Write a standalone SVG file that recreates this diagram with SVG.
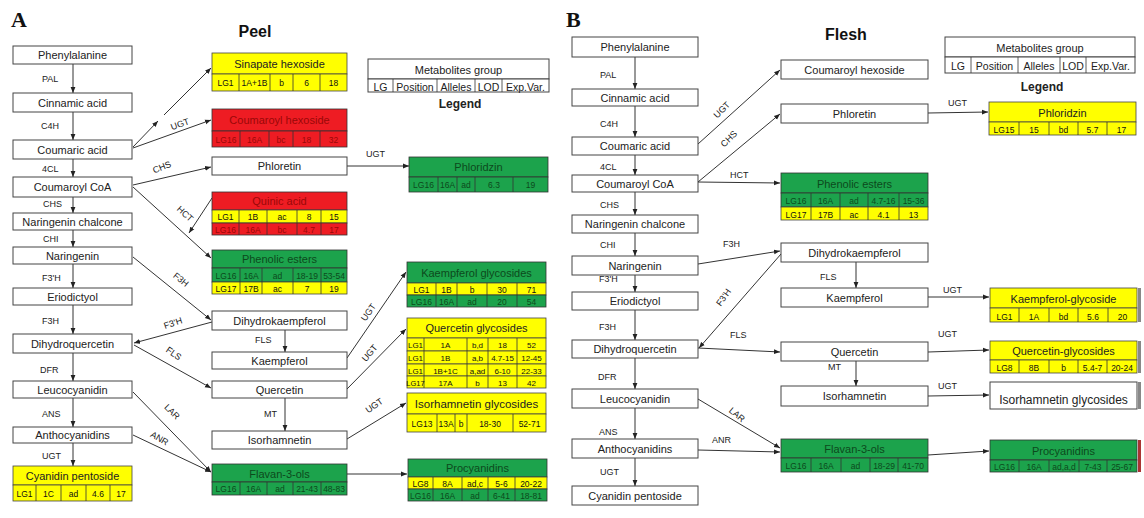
<svg xmlns="http://www.w3.org/2000/svg" width="1144" height="518" viewBox="0 0 1144 518">
<defs>
<marker id="ah" viewBox="0 0 10 10" refX="10" refY="5" markerWidth="6" markerHeight="6" orient="auto" markerUnits="userSpaceOnUse"><path d="M0,1 L10,5 L0,9 z" fill="#222"/></marker>
<style>
text{font-family:"Liberation Sans",Arial,sans-serif}
.box{fill:#fff;stroke:#444;stroke-width:1}
.cy{fill:#ffff00;stroke:#444;stroke-width:0.8}
.cg{fill:#1ca34c;stroke:#333;stroke-width:0.8}
.cr{fill:#ee1c23;stroke:#333;stroke-width:0.8}
.dv{stroke:#333;stroke-width:0.8;fill:none}
.t{font-size:11px;text-anchor:middle;fill:#222}
.d{font-size:8.5px;text-anchor:middle;fill:#111}
.tg{fill:#0c4a1c}
.tr{fill:#9a0808}
.lb{font-size:9px;fill:#222}
.hd{font-size:16px;font-weight:bold;text-anchor:middle;fill:#111}
.pn{font-family:"Liberation Serif","Times New Roman",serif;font-size:22px;font-weight:bold;fill:#111}
.lg{font-size:12px;font-weight:bold;text-anchor:middle;fill:#222}
.ln{stroke:#333;stroke-width:1;fill:none;marker-end:url(#ah)}
.pl{stroke:#333;stroke-width:1;fill:none}
</style>
</defs>
<rect width="1144" height="518" fill="#fff"/>

<!-- Panel headings -->
<text class="pn" x="11" y="27">A</text>
<text class="hd" x="255" y="37">Peel</text>
<text class="pn" x="566" y="27">B</text>
<text class="hd" x="846" y="40">Flesh</text>

<!-- ===== Connectors ===== -->
<g id="connectors">
<!-- A vertical -->
<line class="ln" x1="73" y1="64" x2="73" y2="93"/>
<line class="ln" x1="73" y1="112" x2="73" y2="140"/>
<line class="ln" x1="73" y1="159" x2="73" y2="177"/>
<line class="ln" x1="73" y1="197" x2="73" y2="213"/>
<line class="ln" x1="73" y1="230" x2="73" y2="247"/>
<line class="ln" x1="73" y1="264" x2="73" y2="288"/>
<line class="ln" x1="73" y1="305" x2="73" y2="334"/>
<line class="ln" x1="73" y1="353" x2="73" y2="381"/>
<line class="ln" x1="73" y1="398" x2="73" y2="427"/>
<line class="ln" x1="73" y1="443" x2="73" y2="466"/>
<line class="ln" x1="285" y1="330" x2="285" y2="352"/>
<line class="ln" x1="285" y1="398" x2="285" y2="431"/>
<!-- A diagonals -->
<line class="ln" x1="133" y1="147" x2="158" y2="121"/>
<line class="ln" x1="164" y1="115" x2="211" y2="68"/>
<line class="ln" x1="133" y1="148" x2="211" y2="120"/>
<line class="ln" x1="133" y1="185" x2="211" y2="167"/>
<line class="ln" x1="133" y1="187" x2="211" y2="258"/>
<line class="ln" x1="212" y1="198" x2="189" y2="233"/>
<line class="ln" x1="133" y1="257" x2="211" y2="320"/>
<line class="ln" x1="212" y1="322" x2="134" y2="343"/>
<line class="ln" x1="134" y1="345" x2="211" y2="388"/>
<line class="ln" x1="133" y1="392" x2="211" y2="472"/>
<line class="ln" x1="133" y1="435" x2="211" y2="472"/>
<line class="ln" x1="347" y1="166" x2="409" y2="166"/>
<line class="ln" x1="347" y1="358" x2="406" y2="272"/>
<line class="ln" x1="347" y1="389" x2="406" y2="329"/>
<line class="ln" x1="347" y1="439" x2="406" y2="403"/>
<line class="ln" x1="347" y1="474" x2="407" y2="474"/>
<!-- B vertical -->
<line class="ln" x1="635" y1="57" x2="635" y2="89"/>
<line class="ln" x1="635" y1="106" x2="635" y2="137"/>
<line class="ln" x1="635" y1="155" x2="635" y2="175"/>
<line class="ln" x1="635" y1="192" x2="635" y2="215"/>
<line class="ln" x1="635" y1="233" x2="635" y2="256"/>
<line class="ln" x1="635" y1="275" x2="635" y2="292"/>
<line class="ln" x1="635" y1="310" x2="635" y2="340"/>
<line class="ln" x1="635" y1="358" x2="635" y2="389"/>
<line class="ln" x1="635" y1="408" x2="635" y2="439"/>
<line class="ln" x1="635" y1="458" x2="635" y2="486"/>
<line class="ln" x1="856" y1="262" x2="856" y2="288"/>
<line class="ln" x1="856" y1="361" x2="856" y2="386"/>
<!-- B diagonals -->
<line class="ln" x1="698" y1="144" x2="780" y2="70"/>
<line class="ln" x1="698" y1="182" x2="780" y2="114"/>
<line class="ln" x1="698" y1="182" x2="780" y2="183"/>
<line class="ln" x1="698" y1="264" x2="780" y2="251"/>
<line class="ln" x1="781" y1="254" x2="699" y2="348"/>
<line class="ln" x1="698" y1="348" x2="780" y2="352"/>
<line class="ln" x1="698" y1="399" x2="780" y2="448"/>
<line class="ln" x1="698" y1="450" x2="780" y2="452"/>
<line class="ln" x1="928" y1="113" x2="988" y2="112"/>
<line class="ln" x1="928" y1="297" x2="989" y2="297"/>
<line class="ln" x1="928" y1="352" x2="989" y2="350"/>
<line class="ln" x1="928" y1="396" x2="989" y2="395"/>
<line class="ln" x1="928" y1="455" x2="989" y2="451"/>
<!-- labels A -->
<text class="lb" x="42" y="82">PAL</text>
<text class="lb" x="41" y="129">C4H</text>
<text class="lb" x="42" y="172">4CL</text>
<text class="lb" x="43" y="207">CHS</text>
<text class="lb" x="43" y="242">CHI</text>
<text class="lb" x="42" y="281">F3'H</text>
<text class="lb" x="42" y="324">F3H</text>
<text class="lb" x="40" y="373">DFR</text>
<text class="lb" x="42" y="417">ANS</text>
<text class="lb" x="42" y="459">UGT</text>
<text class="lb" x="255" y="343">FLS</text>
<text class="lb" x="264" y="417">MT</text>
<text class="lb" x="366" y="157">UGT</text>
<text class="lb" text-anchor="middle" transform="translate(181,127) rotate(-20)">UGT</text>
<text class="lb" text-anchor="middle" transform="translate(163,170) rotate(-22)">CHS</text>
<text class="lb" text-anchor="middle" transform="translate(183,216) rotate(42)">HCT</text>
<text class="lb" text-anchor="middle" transform="translate(179,282) rotate(39)">F3H</text>
<text class="lb" text-anchor="middle" transform="translate(174,326) rotate(-18)">F3'H</text>
<text class="lb" text-anchor="middle" transform="translate(172,356) rotate(35)">FLS</text>
<text class="lb" text-anchor="middle" transform="translate(170,414) rotate(45)">LAR</text>
<text class="lb" text-anchor="middle" transform="translate(158,441) rotate(30)">ANR</text>
<text class="lb" text-anchor="middle" transform="translate(371,314) rotate(-55)">UGT</text>
<text class="lb" text-anchor="middle" transform="translate(372,355) rotate(-50)">UGT</text>
<text class="lb" text-anchor="middle" transform="translate(376,408) rotate(-35)">UGT</text>
<!-- labels B -->
<text class="lb" x="600" y="78">PAL</text>
<text class="lb" x="600" y="127">C4H</text>
<text class="lb" x="600" y="170">4CL</text>
<text class="lb" x="600" y="208">CHS</text>
<text class="lb" x="600" y="248">CHI</text>
<text class="lb" x="599" y="282">F3'H</text>
<text class="lb" x="599" y="330">F3H</text>
<text class="lb" x="598" y="380">DFR</text>
<text class="lb" x="599" y="435">ANS</text>
<text class="lb" x="600" y="475">UGT</text>
<text class="lb" x="730" y="178">HCT</text>
<text class="lb" x="723" y="247">F3H</text>
<text class="lb" x="730" y="338">FLS</text>
<text class="lb" x="712" y="443">ANR</text>
<text class="lb" x="820" y="280">FLS</text>
<text class="lb" x="828" y="370">MT</text>
<text class="lb" x="948" y="106">UGT</text>
<text class="lb" x="943" y="293">UGT</text>
<text class="lb" x="938" y="337">UGT</text>
<text class="lb" x="938" y="389">UGT</text>
<text class="lb" text-anchor="middle" transform="translate(724,112) rotate(-45)">UGT</text>
<text class="lb" text-anchor="middle" transform="translate(731,141) rotate(-45)">CHS</text>
<text class="lb" text-anchor="middle" transform="translate(726,299) rotate(-55)">F3'H</text>
<text class="lb" text-anchor="middle" transform="translate(735,417) rotate(40)">LAR</text>
</g>

<!-- ===== Panel A nodes ===== -->
<g id="a-phenylalanine"><rect class="box" x="13" y="46" width="119" height="18"/><text class="t" x="72.5" y="59">Phenylalanine</text></g>
<g id="a-cinnamic"><rect class="box" x="13" y="93" width="119" height="19"/><text class="t" x="72.5" y="106.5">Cinnamic acid</text></g>
<g id="a-coumaric"><rect class="box" x="13" y="140" width="119" height="19"/><text class="t" x="72.5" y="153.5">Coumaric acid</text></g>
<g id="a-coumaroylcoa"><rect class="box" x="13" y="177" width="119" height="20"/><text class="t" x="72.5" y="191">Coumaroyl CoA</text></g>
<g id="a-chalcone"><rect class="box" x="13" y="213" width="119" height="17"/><text class="t" x="72.5" y="225.5">Naringenin chalcone</text></g>
<g id="a-naringenin"><rect class="box" x="13" y="247" width="119" height="17"/><text class="t" x="72.5" y="259.5">Naringenin</text></g>
<g id="a-eriodictyol"><rect class="box" x="13" y="288" width="119" height="17"/><text class="t" x="72.5" y="300.5">Eriodictyol</text></g>
<g id="a-dihydroquercetin"><rect class="box" x="13" y="334" width="119" height="19"/><text class="t" x="72.5" y="347.5">Dihydroquercetin</text></g>
<g id="a-leucocyanidin"><rect class="box" x="13" y="381" width="119" height="17"/><text class="t" x="72.5" y="393.5">Leucocyanidin</text></g>
<g id="a-anthocyanidins"><rect class="box" x="13" y="427" width="119" height="16"/><text class="t" x="72.5" y="439">Anthocyanidins</text></g>
<g id="a-cyanidin">
<rect class="cy" x="13" y="466" width="119" height="19"/><rect class="cy" x="13" y="485" width="119" height="16"/>
<path class="dv" d="M36,485V501M61,485V501M86,485V501M110,485V501"/>
<text class="t" x="72.5" y="480">Cyanidin pentoside</text>
<text class="d" y="497"><tspan x="24.5">LG1</tspan><tspan x="48.5">1C</tspan><tspan x="73.5">ad</tspan><tspan x="98">4.6</tspan><tspan x="121">17</tspan></text>
</g>

<g id="a-sinapate">
<rect class="cy" x="212" y="53" width="135" height="21"/><rect class="cy" x="212" y="74" width="135" height="17"/>
<path class="dv" d="M239,74V91M270,74V91M293,74V91M320,74V91"/>
<text class="t" x="279.5" y="67.5">Sinapate hexoside</text>
<text class="d" y="86"><tspan x="225.5">LG1</tspan><tspan x="254.5">1A+1B</tspan><tspan x="281.5">b</tspan><tspan x="306.5">6</tspan><tspan x="333.5">18</tspan></text>
</g>
<g id="a-coumaroylhex">
<rect class="cr" x="212" y="109" width="135" height="22"/><rect class="cr" x="212" y="131" width="135" height="16"/>
<path class="dv" d="M240,131V147M269,131V147M293,131V147M320,131V147"/>
<text class="t tr" x="279.5" y="124">Coumaroyl hexoside</text>
<text class="d tr" y="143"><tspan x="226">LG16</tspan><tspan x="254.5">16A</tspan><tspan x="281">bc</tspan><tspan x="306.5">18</tspan><tspan x="333.5">32</tspan></text>
</g>
<g id="a-phloretin"><rect class="box" x="212" y="157" width="135" height="18"/><text class="t" x="279.5" y="170">Phloretin</text></g>
<g id="a-quinic">
<rect class="cr" x="212" y="192" width="135" height="18"/><rect class="cy" x="212" y="210" width="135" height="13"/><rect class="cr" x="212" y="223" width="135" height="12"/>
<path class="dv" d="M239,210V235M267,210V235M297,210V235M321,210V235"/>
<text class="t tr" x="279.5" y="205">Quinic acid</text>
<text class="d" y="220"><tspan x="225.5">LG1</tspan><tspan x="253">1B</tspan><tspan x="282">ac</tspan><tspan x="309">8</tspan><tspan x="334">15</tspan></text>
<text class="d tr" y="232.5"><tspan x="225.5">LG16</tspan><tspan x="253">16A</tspan><tspan x="282">bc</tspan><tspan x="309">4.7</tspan><tspan x="334">17</tspan></text>
</g>
<g id="a-phenolic">
<rect class="cg" x="212" y="250" width="135" height="18"/><rect class="cg" x="212" y="268" width="135" height="14"/><rect class="cy" x="212" y="282" width="135" height="12"/>
<path class="dv" d="M240,268V294M262,268V294M293,268V294M321,268V294"/>
<text class="t tg" x="279.5" y="263">Phenolic esters</text>
<text class="d tg" y="278.5"><tspan x="226">LG16</tspan><tspan x="251">16A</tspan><tspan x="277.5">ad</tspan><tspan x="307">18-19</tspan><tspan x="334">53-54</tspan></text>
<text class="d" y="291.5"><tspan x="226">LG17</tspan><tspan x="251">17B</tspan><tspan x="277.5">ac</tspan><tspan x="307">7</tspan><tspan x="334">19</tspan></text>
</g>
<g id="a-dihydrokaempferol"><rect class="box" x="212" y="311" width="135" height="19"/><text class="t" x="279.5" y="324.5">Dihydrokaempferol</text></g>
<g id="a-kaempferol"><rect class="box" x="212" y="352" width="135" height="17"/><text class="t" x="279.5" y="364.5">Kaempferol</text></g>
<g id="a-quercetin"><rect class="box" x="212" y="381" width="135" height="17"/><text class="t" x="279.5" y="393.5">Quercetin</text></g>
<g id="a-isorhamnetin"><rect class="box" x="212" y="431" width="135" height="18"/><text class="t" x="279.5" y="444">Isorhamnetin</text></g>
<g id="a-flavan">
<rect class="cg" x="212" y="464" width="135" height="18"/><rect class="cg" x="212" y="482" width="135" height="13"/>
<path class="dv" d="M240,482V495M267,482V495M293,482V495M321,482V495"/>
<text class="t tg" x="279.5" y="477.5">Flavan-3-ols</text>
<text class="d tg" y="492"><tspan x="226">LG16</tspan><tspan x="253.5">16A</tspan><tspan x="280">ad</tspan><tspan x="307">21-43</tspan><tspan x="334">48-83</tspan></text>
</g>

<g id="a-legend">
<rect class="box" x="368" y="59" width="181" height="20"/><rect class="box" x="368" y="79" width="181" height="13"/>
<path class="dv" d="M393,79V92M437,79V92M475,79V92M502,79V92"/>
<text class="t" x="458.5" y="73.5">Metabolites group</text>
<text class="t" y="90.5" style="font-size:10.5px"><tspan x="380.5">LG</tspan><tspan x="415">Position</tspan><tspan x="456">Alleles</tspan><tspan x="488.5">LOD</tspan><tspan x="525.5">Exp.Var.</tspan></text>
<text class="lg" x="460" y="108">Legend</text>
</g>
<g id="a-phloridzin">
<rect class="cg" x="409" y="157" width="139" height="20"/><rect class="cg" x="409" y="177" width="139" height="15"/>
<path class="dv" d="M438,177V192M457,177V192M475,177V192M513,177V192"/>
<text class="t tg" x="478.5" y="171">Phloridzin</text>
<text class="d tg" y="188"><tspan x="423.5">LG16</tspan><tspan x="447.5">16A</tspan><tspan x="466">ad</tspan><tspan x="494">6.3</tspan><tspan x="530.5">19</tspan></text>
</g>
<g id="a-kaempgly">
<rect class="cg" x="407" y="262" width="139" height="21"/><rect class="cy" x="407" y="283" width="139" height="12"/><rect class="cg" x="407" y="295" width="139" height="12"/>
<path class="dv" d="M436,283V307M457,283V307M487,283V307M517,283V307"/>
<text class="t tg" x="476.5" y="276.5">Kaempferol glycosides</text>
<text class="d" y="293"><tspan x="421.5">LG1</tspan><tspan x="446.5">1B</tspan><tspan x="472">b</tspan><tspan x="502">30</tspan><tspan x="531.5">71</tspan></text>
<text class="d tg" y="305"><tspan x="421.5">LG16</tspan><tspan x="446.5">16A</tspan><tspan x="472">ad</tspan><tspan x="502">20</tspan><tspan x="531.5">54</tspan></text>
</g>
<g id="a-quercgly">
<rect class="cy" x="407" y="318" width="139" height="20"/><rect class="cy" x="407" y="338" width="139" height="13"/><rect class="cy" x="407" y="351" width="139" height="13"/><rect class="cy" x="407" y="364" width="139" height="12"/><rect class="cy" x="407" y="376" width="139" height="12"/>
<path class="dv" d="M424,338V388M467,338V388M488,338V388M517,338V388"/>
<text class="t" x="476.5" y="332">Quercetin glycosides</text>
<text class="d" y="348" style="font-size:8px"><tspan x="415.5">LG1</tspan><tspan x="445.5">1A</tspan><tspan x="477.5">b,d</tspan><tspan x="502.5">18</tspan><tspan x="531.5">52</tspan></text>
<text class="d" y="361" style="font-size:8px"><tspan x="415.5">LG1</tspan><tspan x="445.5">1B</tspan><tspan x="477.5">a,b</tspan><tspan x="502.5">4.7-15</tspan><tspan x="531.5">12-45</tspan></text>
<text class="d" y="373.5" style="font-size:8px"><tspan x="415.5">LG1</tspan><tspan x="445.5">1B+1C</tspan><tspan x="477.5">a,ad</tspan><tspan x="502.5">6-10</tspan><tspan x="531.5">22-33</tspan></text>
<text class="d" y="385.5" style="font-size:8px"><tspan x="415.5" style="font-size:7.5px">LG17</tspan><tspan x="445.5">17A</tspan><tspan x="477.5">b</tspan><tspan x="502.5">13</tspan><tspan x="531.5">42</tspan></text>
</g>
<g id="a-isorhamgly">
<rect class="cy" x="407" y="393" width="139" height="21"/><rect class="cy" x="407" y="414" width="139" height="18"/>
<path class="dv" d="M437,414V432M455,414V432M467,414V432M513,414V432"/>
<text class="t" x="476.5" y="408" style="font-size:11.5px">Isorhamnetin glycosides</text>
<text class="d" y="427"><tspan x="422">LG13</tspan><tspan x="446">13A</tspan><tspan x="461">b</tspan><tspan x="490">18-30</tspan><tspan x="529.5">52-71</tspan></text>
</g>
<g id="a-procyanidins">
<rect class="cg" x="408" y="459" width="139" height="18"/><rect class="cy" x="408" y="477" width="139" height="12"/><rect class="cg" x="408" y="489" width="139" height="12"/>
<path class="dv" d="M433,477V501M462,477V501M488,477V501M515,477V501"/>
<text class="t tg" x="477.5" y="472">Procyanidins</text>
<text class="d" y="486.5"><tspan x="420.5">LG8</tspan><tspan x="447.5">8A</tspan><tspan x="475">ad,c</tspan><tspan x="501.5">5-6</tspan><tspan x="531">20-22</tspan></text>
<text class="d tg" y="498.5"><tspan x="420.5">LG16</tspan><tspan x="447.5">16A</tspan><tspan x="475">ad</tspan><tspan x="501.5">6-41</tspan><tspan x="531">18-81</tspan></text>
</g>

<!-- ===== Panel B nodes ===== -->
<g id="b-phenylalanine"><rect class="box" x="572" y="37" width="126" height="20"/><text class="t" x="635" y="51">Phenylalanine</text></g>
<g id="b-cinnamic"><rect class="box" x="572" y="89" width="126" height="17"/><text class="t" x="635" y="101.5">Cinnamic acid</text></g>
<g id="b-coumaric"><rect class="box" x="572" y="137" width="126" height="18"/><text class="t" x="635" y="150">Coumaric acid</text></g>
<g id="b-coumaroylcoa"><rect class="box" x="572" y="175" width="126" height="17"/><text class="t" x="635" y="187.5">Coumaroyl CoA</text></g>
<g id="b-chalcone"><rect class="box" x="572" y="215" width="126" height="18"/><text class="t" x="635" y="228">Naringenin chalcone</text></g>
<g id="b-naringenin"><rect class="box" x="572" y="256" width="126" height="19"/><text class="t" x="635" y="269.5">Naringenin</text></g>
<g id="b-eriodictyol"><rect class="box" x="572" y="292" width="126" height="18"/><text class="t" x="635" y="305">Eriodictyol</text></g>
<g id="b-dihydroquercetin"><rect class="box" x="572" y="340" width="126" height="18"/><text class="t" x="635" y="353">Dihydroquercetin</text></g>
<g id="b-leucocyanidin"><rect class="box" x="572" y="389" width="126" height="19"/><text class="t" x="635" y="402.5">Leucocyanidin</text></g>
<g id="b-anthocyanidins"><rect class="box" x="572" y="439" width="126" height="19"/><text class="t" x="635" y="452.5">Anthocyanidins</text></g>
<g id="b-cyanidin"><rect class="box" x="572" y="486" width="126" height="19"/><text class="t" x="635" y="499.5">Cyanidin pentoside</text></g>

<g id="b-coumaroylhex"><rect class="box" x="781" y="60" width="147" height="19"/><text class="t" x="854.5" y="73.5">Coumaroyl hexoside</text></g>
<g id="b-phloretin"><rect class="box" x="781" y="104" width="147" height="19"/><text class="t" x="854.5" y="117.5">Phloretin</text></g>
<g id="b-phenolic">
<rect class="cg" x="781" y="173" width="147" height="20"/><rect class="cg" x="781" y="193" width="147" height="14"/><rect class="cy" x="781" y="207" width="147" height="13"/>
<path class="dv" d="M811,193V220M840,193V220M868,193V220M899,193V220"/>
<text class="t tg" x="854.5" y="187.5">Phenolic esters</text>
<text class="d tg" y="204"><tspan x="796">LG16</tspan><tspan x="825.5">16A</tspan><tspan x="854">ad</tspan><tspan x="883.5">4.7-16</tspan><tspan x="913.5">15-36</tspan></text>
<text class="d" y="217.5"><tspan x="796">LG17</tspan><tspan x="825.5">17B</tspan><tspan x="854">ac</tspan><tspan x="883.5">4.1</tspan><tspan x="913.5">13</tspan></text>
</g>
<g id="b-dihydrokaempferol"><rect class="box" x="781" y="243" width="147" height="19"/><text class="t" x="854.5" y="256.5">Dihydrokaempferol</text></g>
<g id="b-kaempferol"><rect class="box" x="781" y="288" width="147" height="19"/><text class="t" x="854.5" y="301.5">Kaempferol</text></g>
<g id="b-quercetin"><rect class="box" x="781" y="342" width="147" height="19"/><text class="t" x="854.5" y="355.5">Quercetin</text></g>
<g id="b-isorhamnetin"><rect class="box" x="781" y="386" width="147" height="20"/><text class="t" x="854.5" y="400">Isorhamnetin</text></g>
<g id="b-flavan">
<rect class="cg" x="781" y="439" width="147" height="19"/><rect class="cg" x="781" y="458" width="147" height="14"/>
<path class="dv" d="M811,458V472M841,458V472M870,458V472M898,458V472"/>
<text class="t tg" x="854.5" y="453">Flavan-3-ols</text>
<text class="d tg" y="469"><tspan x="796">LG16</tspan><tspan x="826">16A</tspan><tspan x="855.5">ad</tspan><tspan x="884">18-29</tspan><tspan x="913">41-70</tspan></text>
</g>

<g id="b-legend">
<rect class="box" x="945" y="37" width="190" height="20"/><rect class="box" x="945" y="57" width="190" height="16"/>
<path class="dv" d="M971,57V73M1018,57V73M1060,57V73M1086,57V73"/>
<text class="t" x="1040" y="51.5">Metabolites group</text>
<text class="t" y="70" style="font-size:10.5px"><tspan x="958">LG</tspan><tspan x="994.5">Position</tspan><tspan x="1039">Alleles</tspan><tspan x="1073">LOD</tspan><tspan x="1110.5">Exp.Var.</tspan></text>
<text class="lg" x="1042" y="91">Legend</text>
</g>
<g id="b-phloridzin">
<rect class="cy" x="989" y="102" width="147" height="20"/><rect class="cy" x="989" y="122" width="147" height="13"/>
<path class="dv" d="M1019,122V135M1049,122V135M1078,122V135M1107,122V135"/>
<text class="t" x="1062.5" y="116.5">Phloridzin</text>
<text class="d" y="133"><tspan x="1004">LG15</tspan><tspan x="1034">15</tspan><tspan x="1063.5">bd</tspan><tspan x="1092.5">5.7</tspan><tspan x="1121.5">17</tspan></text>
</g>
<g id="b-kaempgly">
<rect class="cy" x="990" y="288" width="147" height="20"/><rect class="cy" x="990" y="308" width="147" height="14"/>
<path class="dv" d="M1019,308V322M1049,308V322M1078,308V322M1108,308V322"/>
<rect x="1138" y="288" width="3" height="34" fill="#888"/>
<text class="t" x="1063.5" y="302.5">Kaempferol-glycoside</text>
<text class="d" y="320"><tspan x="1004.5">LG1</tspan><tspan x="1034">1A</tspan><tspan x="1063.5">bd</tspan><tspan x="1093">5.6</tspan><tspan x="1122.5">20</tspan></text>
</g>
<g id="b-quercgly">
<rect class="cy" x="990" y="341" width="147" height="19"/><rect class="cy" x="990" y="360" width="147" height="13"/>
<path class="dv" d="M1019,360V373M1049,360V373M1078,360V373M1107,360V373"/>
<rect x="1138" y="341" width="3" height="32" fill="#888"/>
<text class="t" x="1063.5" y="355">Quercetin-glycosides</text>
<text class="d" y="371"><tspan x="1004.5">LG8</tspan><tspan x="1034">8B</tspan><tspan x="1063.5">b</tspan><tspan x="1092.5">5.4-7</tspan><tspan x="1122">20-24</tspan></text>
</g>
<g id="b-isorhamgly">
<rect class="box" x="990" y="382" width="147" height="27"/>
<rect x="1138" y="382" width="3" height="27" fill="#888"/>
<text class="t" x="1063.5" y="404" style="font-size:12px">Isorhamnetin glycosides</text>
</g>
<g id="b-procyanidins">
<rect class="cg" x="990" y="440" width="147" height="20"/><rect class="cg" x="990" y="460" width="147" height="12"/>
<path class="dv" d="M1019,460V472M1049,460V472M1079,460V472M1107,460V472"/>
<rect x="1138" y="440" width="3" height="32" fill="#a33"/>
<text class="t tg" x="1063.5" y="455">Procyanidins</text>
<text class="d tg" y="470"><tspan x="1004.5">LG16</tspan><tspan x="1034">16A</tspan><tspan x="1064">ad,a,d</tspan><tspan x="1093">7-43</tspan><tspan x="1122">25-67</tspan></text>
</g>
</svg>
